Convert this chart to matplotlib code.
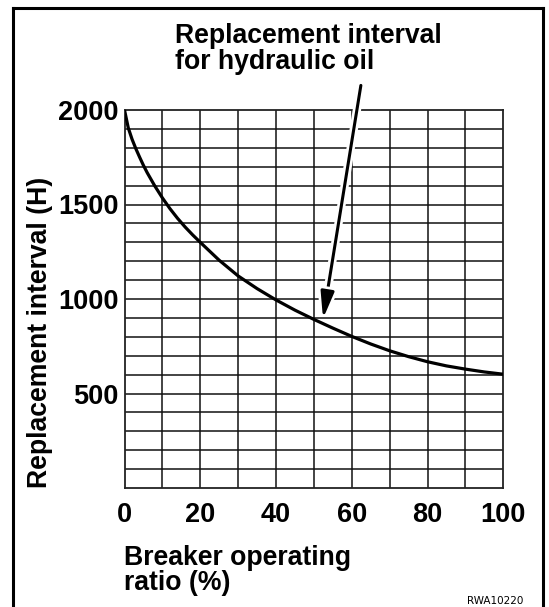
import matplotlib.pyplot as plt
import matplotlib.patheffects as pe
from matplotlib.lines import Line2D

# breaker operating ratio (%) vs. hydraulic oil replacement interval (H)
ratio = [0, 1, 2, 3, 4, 5, 6, 8, 10, 12, 14, 16, 18, 20, 25, 30, 35, 40, 45,
         50, 55, 60, 65, 70, 75, 80, 85, 90, 95, 100]
hours = [2000, 1905, 1845, 1795, 1750, 1707, 1668, 1598, 1535, 1478, 1427, 1381,
         1339, 1300, 1205, 1122, 1055, 995, 941, 892, 846, 802, 762, 726, 695,
         668, 646, 629, 614, 602]

x_ticks = [0, 20, 40, 60, 80, 100]
y_ticks = [500, 1000, 1500, 2000]

W, H = 549, 607
plt.rcParams['font.family'] = ['Liberation Sans', 'DejaVu Sans']
fig = plt.figure(figsize=(W / 100, H / 100), dpi=100)
ax = fig.add_axes([124.5 / W, 1 - 488 / H, (503.3 - 124.5) / W, (488 - 110) / H])

# grid every 10 % and every 100 h
for gx in range(10, 100, 10):
    ax.axvline(gx, color='#111111', lw=1.1, zorder=1)
for gy in range(100, 2000, 100):
    ax.axhline(gy, color='#111111', lw=1.1, zorder=1)

ax.plot(ratio, hours, color='black', lw=2.3, zorder=4, solid_capstyle='butt')

ax.set_xlim(0, 100)
ax.set_ylim(0, 2000)
ax.set_xticks(x_ticks)
ax.set_yticks(y_ticks)
ax.tick_params(length=0, labelsize=19.5)
ax.tick_params(axis='x', pad=10)
ax.tick_params(axis='y', pad=4.5)
for lab in ax.get_xticklabels() + ax.get_yticklabels():
    lab.set_fontweight('bold')
for sp in ax.spines.values():
    sp.set_linewidth(1.3)
    sp.set_color('#222222')

# arrow from the caption down to the curve
ax.annotate('', xy=(52.4, 895), xytext=(62.4, 2130), annotation_clip=False,
            arrowprops=dict(arrowstyle='-|>,head_length=1.6,head_width=0.4',
                            color='black', lw=2.2, shrinkA=0, shrinkB=0,
                            path_effects=[pe.withStroke(linewidth=6, foreground='white')]),
            zorder=3)

fig.text(175 / W, 1 - 23 / H, 'Replacement interval\nfor hydraulic oil',
         fontsize=19.2, fontweight='bold', ha='left', va='top', linespacing=1.0)
fig.text(40 / W, 1 - 332 / H, 'Replacement interval (H)', rotation=90,
         fontsize=19.2, fontweight='bold', ha='center', va='center')
fig.text(124 / W, 1 - 545 / H, 'Breaker operating\nratio (%)',
         fontsize=19.2, fontweight='bold', ha='left', va='top', linespacing=0.95)
fig.text(523 / W, 1 - 604 / H, 'RWA10220', fontsize=7.5, family='DejaVu Sans',
         ha='right', va='baseline')

# outer frame, open at the bottom
fl, fr, ft = 13 / W, 542.5 / W, 1 - 8 / H
for xs, ys in [([fl, fl], [0, ft]), ([fl, fr], [ft, ft]), ([fr, fr], [ft, 0])]:
    fig.add_artist(Line2D(xs, ys, color='black', lw=2.2, solid_capstyle='projecting'))

fig.savefig('out.png', dpi=100)
